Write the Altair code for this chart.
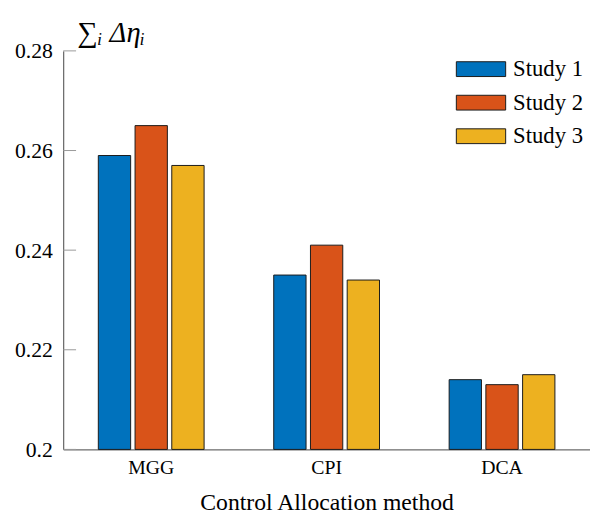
import altair as alt
import pandas as pd

methods = ["MGG", "CPI", "DCA"]
studies = ["Study 1", "Study 2", "Study 3"]
study1 = [0.259, 0.235, 0.214]
study2 = [0.265, 0.241, 0.213]
study3 = [0.257, 0.234, 0.215]
colors = ["#0072BD", "#D95319", "#EDB120"]
y_ticks = [0.2, 0.22, 0.24, 0.26, 0.28]

rows = []
for i, m in enumerate(methods):
    for s, vals in zip(studies, [study1, study2, study3]):
        rows.append({"method": m, "study": s, "value": vals[i], "base": 0.2})
df = pd.DataFrame(rows)
ticks_df = pd.DataFrame({"t": y_ticks})

FONT = "Liberation Serif, Times New Roman, serif"

yscale = alt.Scale(domain=[0.2, 0.28], nice=False, zero=False)

bars = alt.Chart(df).mark_bar(stroke="#1a1a1a", strokeWidth=1).encode(
    x=alt.X("method:N", sort=methods,
            scale=alt.Scale(paddingInner=0.397, paddingOuter=0.2),
            axis=alt.Axis(title="Control Allocation method", labelAngle=0, ticks=False,
                          labelFontSize=20, titleFontSize=24, labelPadding=8,
                          titlePadding=14, labelFont=FONT, titleFont=FONT)),
    xOffset=alt.XOffset("study:N", sort=studies,
                        scale=alt.Scale(paddingInner=0.12, paddingOuter=0)),
    y=alt.Y("value:Q", scale=yscale,
            axis=alt.Axis(title="∑ᵢ Δηᵢ", values=y_ticks, format="~g", ticks=False,
                          grid=False, labelFontSize=22, labelPadding=11,
                          labelFont=FONT, titleFont=FONT,
                          titleAngle=0, titleAlign="left", titleBaseline="middle",
                          titleX=14, titleY=-19, titleFontSize=29,
                          titleFontStyle="italic")),
    y2="base:Q",
    color=alt.Color("study:N", sort=studies,
                    scale=alt.Scale(domain=studies, range=colors),
                    legend=alt.Legend(title=None, orient="none", legendX=408, legendY=3,
                                      symbolType="M-1.667,-0.5H1.667V0.5H-1.667Z",
                                      symbolSize=900,
                                      symbolStrokeColor="#1a1a1a", symbolStrokeWidth=1,
                                      labelFontSize=23, labelOffset=17, rowPadding=6,
                                      padding=0, labelColor="#000", labelFont=FONT)),
)

tick_marks = alt.Chart(ticks_df).mark_rule(color="#999", strokeWidth=1).encode(
    y=alt.Y("t:Q", scale=yscale),
    x=alt.value(0),
    x2=alt.value(13),
)

chart = alt.layer(bars, tick_marks).properties(
    width=534, height=404,
    padding={"left": 56, "top": 40, "right": 0, "bottom": 62},
    autosize=alt.AutoSizeParams(type="none"),
).configure(font=FONT).configure_view(stroke=None).configure_axis(
    labelFont=FONT, titleFont=FONT, titleFontWeight="normal",
    domainColor="#444", labelColor="#000", titleColor="#000",
).configure_legend(labelFont=FONT)

chart.save("out.html", embed_options={"renderer": "svg", "actions": False})
